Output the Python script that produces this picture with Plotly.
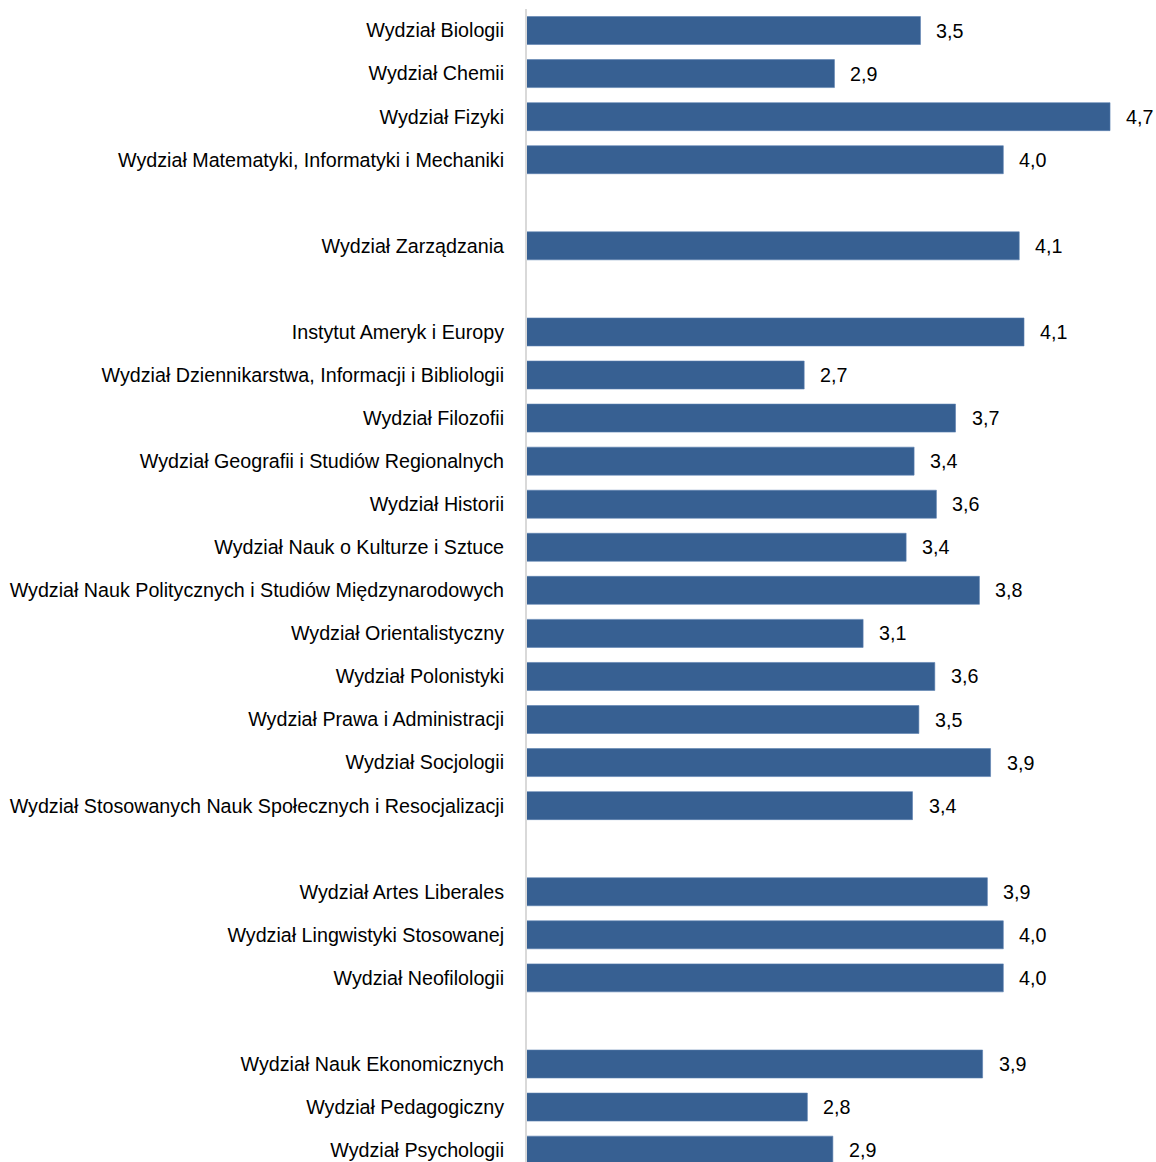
import plotly.graph_objects as go

categories = [
    "Wydział Biologii",
    "Wydział Chemii",
    "Wydział Fizyki",
    "Wydział Matematyki, Informatyki i Mechaniki",
    "",
    "Wydział Zarządzania",
    "",
    "Instytut Ameryk i Europy",
    "Wydział Dziennikarstwa, Informacji i Bibliologii",
    "Wydział Filozofii",
    "Wydział Geografii i Studiów Regionalnych",
    "Wydział Historii",
    "Wydział Nauk o Kulturze i Sztuce",
    "Wydział Nauk Politycznych i Studiów Międzynarodowych",
    "Wydział Orientalistyczny",
    "Wydział Polonistyki",
    "Wydział Prawa i Administracji",
    "Wydział Socjologii",
    "Wydział Stosowanych Nauk Społecznych i Resocjalizacji",
    "",
    "Wydział Artes Liberales",
    "Wydział Lingwistyki Stosowanej",
    "Wydział Neofilologii",
    "",
    "Wydział Nauk Ekonomicznych",
    "Wydział Pedagogiczny",
    "Wydział Psychologii",
]

values = [
    3.47, 2.93, 4.66, 3.99, None, 4.09, None,
    4.12, 2.74, 3.69, 3.43, 3.57, 3.38, 3.84, 3.11, 3.56, 3.46, 3.91, 3.42,
    None, 3.89, 3.99, 3.99, None, 3.86, 2.76, 2.92,
]

positions = list(range(len(categories)))
bar_x = [v for v in values if v is not None]
bar_y = [p for p, v in zip(positions, values) if v is not None]

FONT = "Liberation Sans, Arial, sans-serif"
FS = 19.7

fig = go.Figure()
fig.add_trace(go.Bar(
    x=bar_x,
    y=bar_y,
    orientation="h",
    width=0.65,
    marker=dict(color="#376092", line=dict(color="#5b7fb0", width=0.6)),
    hoverinfo="skip",
))

for x, y in zip(bar_x, bar_y):
    fig.add_annotation(
        x=x, y=y, xref="x", yref="y",
        text=f"{x:.1f}".replace(".", ","),
        showarrow=False, xanchor="left", yanchor="middle",
        xshift=14,
        font=dict(family=FONT, size=FS, color="#000000"),
    )

fig.update_layout(
    width=1156, height=1162,
    margin=dict(l=527, r=0, t=8.5, b=0, autoexpand=False),
    plot_bgcolor="white", paper_bgcolor="white",
    showlegend=False,
    font=dict(family=FONT, size=FS, color="#000000"),
)
fig.update_xaxes(
    range=[1, 1 + 629 / 159.3],
    visible=False, showgrid=False, zeroline=False, automargin=False,
)
fig.update_yaxes(
    range=[-0.5 + 1153.5 / 43.08, -0.5],
    tickmode="array", tickvals=positions, ticktext=categories,
    showgrid=False, zeroline=False, automargin=False,
    showline=True, linecolor="#d9d9d9", linewidth=2,
    ticks="", ticklabelstandoff=17,
    tickfont=dict(family=FONT, size=FS, color="#000000"),
)

fig.write_html(
    "out.html",
    config={"displayModeBar": False, "staticPlot": True},
    post_script="document.body.style.margin='0';document.body.style.overflow='hidden';",
)
